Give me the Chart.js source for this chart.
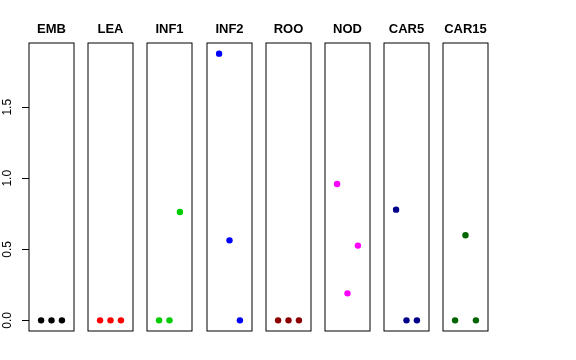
<!DOCTYPE html>
<html>
<head>
<meta charset="utf-8">
<script src="https://cdn.jsdelivr.net/npm/chart.js@4"></script>
<style>
  body { margin: 0; background: #fff; }
  #wrap { position: relative; width: 576px; height: 360px; }
  #wrap canvas { position: absolute; top: 0; }
</style>
</head>
<body>
<div id="wrap"></div>
<script>
// Panel names and colours
const tissues = ["EMB", "LEA", "INF1", "INF2", "ROO", "NOD", "CAR5", "CAR15"];
const colors = ["#000000", "#FF0000", "#00CD00", "#0000FF", "#8B0000", "#FF00FF", "#00008B", "#006400"];

// Values per panel (x = 1, 2, 3)
const xPositions = [1, 2, 3];
const emb = [0, 0, 0];
const lea = [0, 0, 0];
const inf1 = [0, 0, 0.763];
const inf2 = [1.877, 0.563, 0];
const roo = [0, 0, 0];
const nod = [0.96, 0.19, 0.526];
const car5 = [0.779, 0, 0];
const car15 = [0, 0.599, 0];
const values = [emb, lea, inf1, inf2, roo, nod, car5, car15];

const yTicks = [0, 0.5, 1, 1.5];

// R style axis ranges (4% expansion)
const yTop = Math.max(...values.flat());
const yMin = -0.04 * yTop;
const yMax = yTop * 1.04;
const xMin = -0.16;
const xMax = 4.16;

// Layout
const firstLeft = 29;
const step = 59.2;
const boxWidth = 45;
const side = 10;

Chart.defaults.font.family = "'Liberation Sans', Arial, sans-serif";
Chart.defaults.color = "#000";

const boxBorder = {
  id: "boxBorder",
  afterDraw(chart) {
    const { ctx, chartArea: a } = chart;
    ctx.save();
    ctx.strokeStyle = "#000";
    ctx.lineWidth = 1;
    ctx.strokeRect(a.left, a.top, a.right - a.left, a.bottom - a.top);
    ctx.restore();
  },
};

const wrap = document.getElementById("wrap");

tissues.forEach((name, i) => {
  const boxLeft = Math.round(firstLeft + i * step);
  const canvas = document.createElement("canvas");
  const left = i === 0 ? 0 : boxLeft - side;
  const width = i === 0 ? boxLeft + boxWidth + side : boxWidth + 2 * side;
  canvas.width = width;
  canvas.height = 360;
  canvas.style.left = left + "px";
  canvas.style.width = width + "px";
  canvas.style.height = "360px";
  wrap.appendChild(canvas);

  const yScale = {
    display: i === 0,
    min: yMin,
    max: yMax,
    afterBuildTicks: (s) => {
      s.ticks = yTicks.map((v) => ({ value: v }));
    },
    grid: {
      drawOnChartArea: false,
      drawTicks: true,
      tickLength: 7,
      color: "#000",
    },
    border: { display: false },
    ticks: {
      autoSkip: false,
      minRotation: 90,
      maxRotation: 90,
      crossAlign: "center",
      padding: 6,
      color: "#000",
      font: { size: 12 },
      callback: (v) => Number(v).toFixed(1),
    },
  };
  if (i === 0) {
    yScale.afterFit = (s) => {
      s.width = firstLeft;
    };
  }

  new Chart(canvas, {
    type: "scatter",
    data: {
      datasets: [
        {
          data: values[i].map((v, k) => ({ x: xPositions[k], y: v })),
          backgroundColor: colors[i],
          borderWidth: 0,
          pointRadius: 3.2,
        },
      ],
    },
    plugins: [boxBorder],
    options: {
      responsive: false,
      animation: false,
      events: [],
      layout: {
        padding: { left: i === 0 ? 0 : side, right: side, top: 22, bottom: 29 },
      },
      scales: {
        x: {
          position: "top",
          min: xMin,
          max: xMax,
          grid: { display: false, drawTicks: false },
          border: { display: false },
          ticks: { display: false },
          title: {
            display: true,
            text: name,
            color: "#000",
            font: { size: 13, weight: "bold" },
            padding: { top: 0, bottom: 5.4 },
          },
        },
        y: yScale,
      },
      plugins: {
        legend: { display: false },
        tooltip: { enabled: false },
      },
    },
  });
});
</script>
</body>
</html>
